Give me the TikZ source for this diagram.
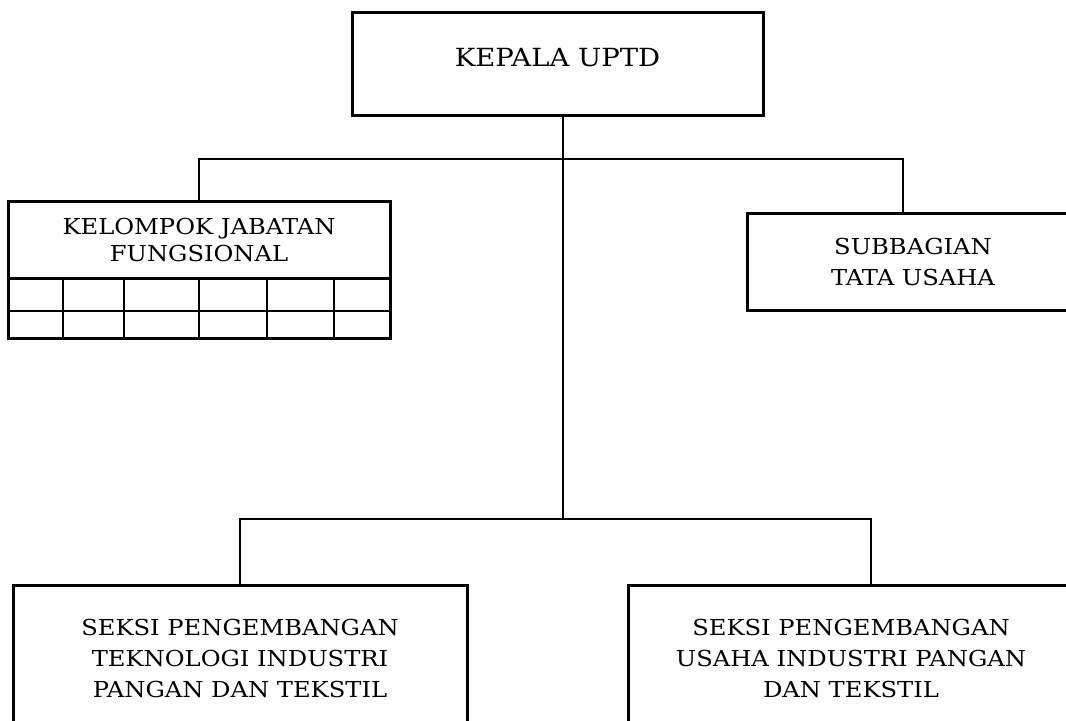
\documentclass[tikz,border=0pt]{standalone}
\usepackage{fontspec}
\setmainfont{DejaVu Serif}[FakeStretch=1.1]
\usepackage{tikz}

\begin{document}
\begin{tikzpicture}[x=0.5pt, y=-0.5pt,
	unit/.style={draw, line width=1.5pt, align=center, inner sep=0pt, font=\fontsize{11}{15.5}\selectfont},
	link/.style={line width=0.8pt}]
	\clip (0,0) rectangle (1066,720);

	\node[unit, minimum width=205.5pt, minimum height=51.5pt, text depth=6pt, font=\fontsize{12.5}{15}\selectfont] (kepala) at (557.5,63.5) {KEPALA UPTD};
	\node[unit, minimum width=191pt, minimum height=38.5pt, font=\fontsize{11}{13.5}\selectfont] (kjf) at (199,239.5) {KELOMPOK JABATAN\\FUNGSIONAL};
	\node[unit, minimum width=166pt, minimum height=48.5pt] (sub) at (913,261.5) {SUBBAGIAN\\TATA USAHA};
	\node[unit, minimum width=227pt, minimum height=73pt] (seksia) at (240,658) {SEKSI PENGEMBANGAN\\TEKNOLOGI INDUSTRI\\PANGAN DAN TEKSTIL};
	\node[unit, minimum width=223pt, minimum height=73pt] (seksib) at (851,658) {SEKSI PENGEMBANGAN\\USAHA INDUSTRI PANGAN\\DAN TEKSTIL};

	% kotak jabatan fungsional
	\draw[line width=1.5pt] (8,278) rectangle (390,338);
	\draw[link] (8,311) -- (390,311);
	\foreach \x in {63,124,199,267,334}
		\draw[link] (\x,278) -- (\x,338);

	\coordinate (top) at (563,159);
	\coordinate (mid) at (563,519);
	\coordinate (ta) at (903,159);
	\coordinate (tb) at (871,519);

	\draw[link] (kepala.south -| mid) -- (mid);
	\draw[link] (kjf.north) |- (ta) -- (ta |- sub.north);
	\draw[link] (seksia.north) |- (tb) -- (tb |- seksib.north);

\end{tikzpicture}
\end{document}
